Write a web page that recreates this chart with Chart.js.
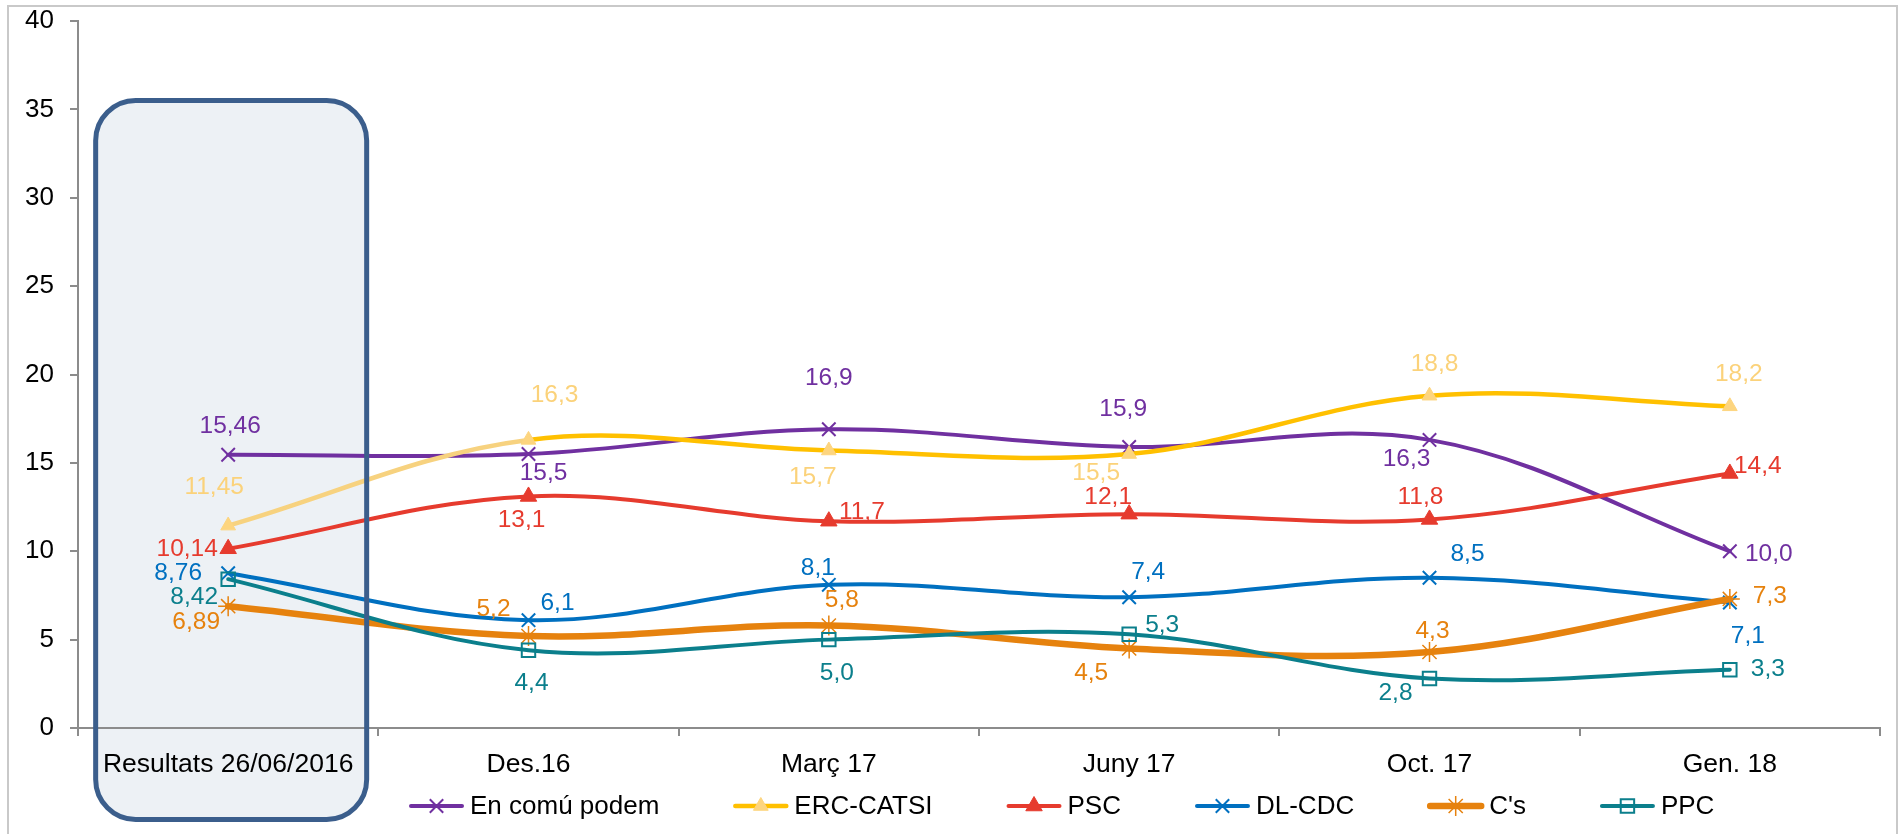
<!DOCTYPE html>
<html><head><meta charset="utf-8">
<script src="https://cdn.jsdelivr.net/npm/chart.js@4.4.1/dist/chart.umd.min.js"></script>
<style>html,body{margin:0;padding:0;background:#fff;}#wrap{position:relative;width:1902px;height:834px;}</style>
</head><body><div id="wrap"><canvas id="c" width="1902" height="834"></canvas></div>
<script>
// ---- data ----
const categories = ['Resultats 26/06/2016', 'Des.16', 'Març 17', 'Juny 17', 'Oct. 17', 'Gen. 18'];
const seriesNames = ['En comú podem', 'ERC-CATSI', 'PSC', 'DL-CDC', "C's", 'PPC'];
const enComuPodem = [15.46, 15.5, 16.9, 15.9, 16.3, 10.0];
const ercCatsi    = [11.45, 16.3, 15.7, 15.5, 18.8, 18.2];
const psc         = [10.14, 13.1, 11.7, 12.1, 11.8, 14.4];
const dlCdc       = [8.76, 6.1, 8.1, 7.4, 8.5, 7.1];
const cs          = [6.89, 5.2, 5.8, 4.5, 4.3, 7.3];
const ppc         = [8.42, 4.4, 5.0, 5.3, 2.8, 3.3];
const labelDecimals = [2, 1, 1, 1, 1, 1];
const yMin = 0, yMax = 40, yStep = 5;

// ---- styles ----
const FONT = "'Liberation Sans', Arial, sans-serif";
const styles = [
  {color:'#7030a0', label:'#7030a0', width:4, ps:'crossRot', r:9.5, pw:2, fill:'#7030a0',
   off:[[2,-28],[15,19],[0,-51],[-6,-38],[-23,19],[39,3]]},
  {color:'#ffc000', label:'#fbd27a', width:4.5, ps:'triangle', r:8.5, pw:1, fill:'#fdd57f', first:'#f7d27f',
   off:[[-14,-38],[26,-45],[-16,27],[-33,19],[5,-31],[9,-32]]},
  {color:'#e63b2e', label:'#e63b2e', width:4, ps:'triangle', r:9.5, pw:1, fill:'#e63b2e',
   off:[[-41,0],[-7,24],[33,-9],[-21,-17],[-9,-22],[28,-7]]},
  {color:'#0070c0', label:'#0070c0', width:4, ps:'crossRot', r:9.5, pw:2, fill:'#0070c0',
   off:[[-50,0],[29,-17],[-11,-17],[19,-25],[38,-24],[18,34]]},
  {color:'#e6820e', label:'#e6820e', width:6.5, ps:'star', r:10, pw:1.5, fill:'#e6820e',
   off:[[-32,16],[-35,-27],[13,-25],[-38,25],[3,-21],[40,-3]]},
  {color:'#0b7f8c', label:'#0b7f8c', width:4, ps:'rect', r:9.5, pw:2, fill:'rgba(0,0,0,0)',
   off:[[-34,18],[3,33],[8,34],[33,-9],[-34,15],[38,0]]}
];
const seriesData = [enComuPodem, ercCatsi, psc, dlCdc, cs, ppc];

const datasets = seriesData.map((d, i) => {
  const s = styles[i];
  const ds = {
    label: seriesNames[i], data: d,
    borderColor: s.color, borderWidth: s.width, tension: 0.36, fill: false,
    pointStyle: s.ps, pointRadius: s.r, pointHoverRadius: s.r,
    pointBorderWidth: s.pw, pointBackgroundColor: s.fill,
    pointBorderColor: s.ps === 'triangle' ? s.fill : s.color,
    borderCapStyle: 'round', borderJoinStyle: 'round',
    order: 5 - i
  };
  if (s.first) ds.segment = { borderColor: c => c.p0DataIndex === 0 ? s.first : undefined };
  return ds;
});

function fmt(v, dec) { return v.toFixed(dec).replace('.', ','); }

function roundRectPath(ctx, x, y, w, h, r) {
  ctx.beginPath();
  ctx.moveTo(x + r, y);
  ctx.lineTo(x + w - r, y);
  ctx.arcTo(x + w, y, x + w, y + r, r);
  ctx.lineTo(x + w, y + h - r);
  ctx.arcTo(x + w, y + h, x + w - r, y + h, r);
  ctx.lineTo(x + r, y + h);
  ctx.arcTo(x, y + h, x, y + h - r, r);
  ctx.lineTo(x, y + r);
  ctx.arcTo(x, y, x + r, y, r);
  ctx.closePath();
}
function boxRect(chart) {
  const xs = chart.scales.x, ys = chart.scales.y;
  const cx = xs.getPixelForValue(0);
  const x0 = cx - 132.5, x1 = cx + 138.5;
  const y0 = ys.getPixelForValue(35.5), y1 = chart.chartArea.bottom + 91.5;
  return [x0, y0, x1 - x0, y1 - y0];
}

const decor = {
  id: 'decor',
  beforeDraw(chart) {
    const ctx = chart.ctx;
    ctx.save();
    ctx.fillStyle = '#fff';
    ctx.fillRect(0, 0, chart.width, chart.height);
    ctx.strokeStyle = '#c9c9c9'; ctx.lineWidth = 2;
    ctx.strokeRect(8, 6, 1889, 900);
    const [x, y, w, h] = boxRect(chart);
    roundRectPath(ctx, x, y, w, h, 40);
    ctx.fillStyle = '#edf1f5';
    ctx.fill();
    ctx.restore();
  },
  afterDatasetsDraw(chart) {
    const ctx = chart.ctx;
    ctx.save();
    const [x, y, w, h] = boxRect(chart);
    roundRectPath(ctx, x, y, w, h, 40);
    ctx.strokeStyle = '#3b5e8c'; ctx.lineWidth = 5;
    ctx.stroke();
    // data labels
    ctx.font = '24.5px ' + FONT;
    ctx.textAlign = 'center'; ctx.textBaseline = 'middle';
    chart.data.datasets.forEach((ds, i) => {
      const meta = chart.getDatasetMeta(i);
      ctx.fillStyle = styles[i].label;
      meta.data.forEach((pt, j) => {
        const o = styles[i].off[j];
        ctx.fillText(fmt(ds.data[j], labelDecimals[j]), pt.x + o[0], pt.y + o[1]);
      });
    });
    ctx.restore();
  },
  afterDraw(chart) {
    const ctx = chart.ctx;
    ctx.save();
    ctx.font = '26px ' + FONT;
    ctx.textBaseline = 'middle'; ctx.textAlign = 'left';
    let x = 409; const y = 806;
    chart.data.datasets.forEach((ds, i) => {
      const s = styles[i];
      ctx.strokeStyle = s.color; ctx.lineWidth = s.width; ctx.lineCap = 'round';
      ctx.beginPath(); ctx.moveTo(x + 2, y); ctx.lineTo(x + 53, y); ctx.stroke();
      ctx.fillStyle = s.fill;
      ctx.strokeStyle = s.ps === 'triangle' ? s.fill : s.color;
      ctx.lineWidth = s.pw; ctx.lineCap = 'butt';
      Chart.helpers.drawPoint(ctx, {pointStyle: s.ps, radius: s.r, rotation: 0, borderWidth: s.pw}, x + 27.5, y);
      ctx.fillStyle = '#000';
      ctx.fillText(ds.label, x + 61, y + 1);
      x += 61 + ctx.measureText(ds.label).width + 74;
    });
    ctx.restore();
  }
};

new Chart(document.getElementById('c'), {
  type: 'line',
  data: { labels: categories, datasets },
  options: {
    responsive: false, animation: false, devicePixelRatio: 1,
    layout: { padding: { left: 0, right: 22, top: 21, bottom: 56 } },
    plugins: { legend: { display: false }, tooltip: { enabled: false } },
    scales: {
      x: {
        offset: true,
        grid: { display: true, offset: true, drawOnChartArea: false, drawTicks: true, tickLength: 8, color: '#8c8c8c', lineWidth: 2 },
        border: { display: true, color: '#8c8c8c', width: 2 },
        ticks: { color: '#000', font: { family: FONT, size: 26.5 }, padding: 13, maxRotation: 0, autoSkip: false },
        afterFit(s) { s.height = 50; s.paddingLeft = 0; s.paddingRight = 0; }
      },
      y: {
        min: yMin, max: yMax,
        grid: { display: true, drawOnChartArea: false, drawTicks: true, tickLength: 8, color: '#8c8c8c', lineWidth: 2 },
        border: { display: true, color: '#8c8c8c', width: 2 },
        ticks: { stepSize: yStep, color: '#000', font: { family: FONT, size: 26 }, padding: 16 },
        afterFit(s) { s.width = 78; s.paddingTop = 0; s.paddingBottom = 0; }
      }
    }
  },
  plugins: [decor]
});
</script></body></html>
